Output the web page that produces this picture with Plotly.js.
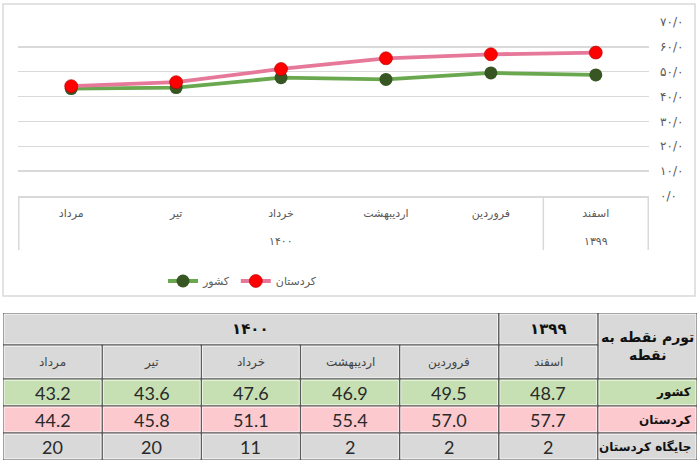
<!DOCTYPE html>
<html>
<head>
<meta charset="utf-8">
<script src="https://cdn.plot.ly/plotly-3.0.1.min.js"></script>
<style>html,body{margin:0;padding:0;background:#fff;}#chart{width:700px;height:466px;}</style>
</head>
<body>
<div id="chart"></div>
<script>
// ---- data (chronological order) ----
const months = ['اسفند', 'فروردین', 'اردیبهشت', 'خرداد', 'تیر', 'مرداد'];
const years = ['۱۳۹۹', '۱۴۰۰', '۱۴۰۰', '۱۴۰۰', '۱۴۰۰', '۱۴۰۰'];
const kashvar = [48.7, 49.5, 46.9, 47.6, 43.6, 43.2];
const kurdistan = [57.7, 57.0, 55.4, 51.1, 45.8, 44.2];
const rankKurdistan = [2, 2, 2, 11, 20, 20];
const seriesNames = ['کشور', 'کردستان'];
const rowLabels = ['کشور', 'کردستان', 'جایگاه کردستان'];
const cornerLabel = 'تورم نقطه به<br>نقطه';
const yTickVals = [0, 10, 20, 30, 40, 50, 60, 70];
const yTickText = ['۰/۰', '۱۰/۰', '۲۰/۰', '۳۰/۰', '۴۰/۰', '۵۰/۰', '۶۰/۰', '۷۰/۰'];

// ---- layout constants ----
const W = 700, H = 466;
const FA = 'DejaVu Sans';
const NUMF = 'Lato, Calibri, Carlito, sans-serif';
const GRID = '#d9d9d9';
const TXT = '#595959';
const gray = '#d9d9d9', green = '#c6e0b4', pink = '#fcc9cf';
const border = '#595959';
const py = v => 1 - v / H; // pixel row -> paper y

const traces = [
  {
    type: 'scatter', mode: 'lines+markers', name: seriesNames[0],
    x: months, y: kashvar,
    line: {color: '#6aa84f', width: 3.8},
    marker: {color: '#375623', size: 13, line: {width: 0}},
    xaxis: 'x', yaxis: 'y'
  },
  {
    type: 'scatter', mode: 'lines+markers', name: seriesNames[1],
    x: months, y: kurdistan,
    line: {color: '#e6789a', width: 3.8},
    marker: {color: '#ff0000', size: 13, line: {width: 0.6, color: '#b00000'}},
    xaxis: 'x', yaxis: 'y'
  }
];

const shapes = [];
const annotations = [];

// outer chart border
shapes.push({type: 'rect', xref: 'paper', yref: 'paper',
  x0: 3 / W, x1: 695 / W, y0: py(296), y1: py(4),
  line: {color: GRID, width: 1.5}, fillcolor: 'rgba(0,0,0,0)', layer: 'below'});

// year groups on the category axis: dividers + labels
const n = months.length;
function groups() {
  const g = [];
  let s = 0;
  for (let i = 1; i <= n; i++) {
    if (i === n || years[i] !== years[s]) { g.push({label: years[s], a: s, b: i - 1}); s = i; }
  }
  return g;
}
const grp = groups();
const divs = new Set();
grp.forEach(g => { divs.add(g.a - 0.5); divs.add(g.b + 0.5); });
divs.forEach(v => shapes.push({type: 'line', xref: 'x', yref: 'paper', x0: v, x1: v,
  y0: py(196), y1: py(250), line: {color: GRID, width: 1.5}}));
grp.forEach(g => annotations.push({xref: 'x', yref: 'paper', x: (g.a + g.b) / 2, y: py(241),
  text: g.label, showarrow: false, yanchor: 'middle', font: {family: FA, size: 11, color: TXT}}));

// ---- table via second axes ----
const rowEdges = [0, 32, 66, 93, 120, 147]; // px offsets from table top

function cell(c0, c1, r0, r1, fill, text, font, align) {
  const y0 = rowEdges[r0], y1 = rowEdges[r1];
  shapes.push({type: 'rect', xref: 'x2', yref: 'y2', x0: c0, x1: c1, y0: y0, y1: y1,
    fillcolor: fill, line: {color: border, width: 1.2}, layer: 'below'});
  shapes.push({type: 'rect', xref: 'x2', yref: 'y2', x0: c0 + 0.012, x1: c1 - 0.012, y0: y0 + 1.3, y1: y1 - 1.3,
    fillcolor: 'rgba(0,0,0,0)', line: {color: 'rgba(255,255,255,0.8)', width: 0.8}, layer: 'below'});
  if (text !== undefined) {
    const right = align === 'right';
    annotations.push({xref: 'x2', yref: 'y2', x: right ? c1 - 0.04 : (c0 + c1) / 2, y: (y0 + y1) / 2,
      text: String(text), showarrow: false, font: font, xanchor: right ? 'right' : 'center',
      yanchor: 'middle', align: right ? 'right' : 'center'});
  }
}

const col = i => n - 1 - i; // chronological index -> column (right to left)
const hdrCol = n;
const fYear = {family: FA, size: 15, color: '#111', weight: 'bold'};
const fMonth = {family: FA, size: 12, color: '#444'};
const fNum = {family: NUMF, size: 18, color: '#2a2a2a'};
const fRow = {family: FA, size: 12, color: '#111', weight: 'bold'};

cell(hdrCol, hdrCol + 1, 0, 2, gray, cornerLabel, {family: FA, size: 14, color: '#111', weight: 'bold'});
grp.forEach(g => cell(col(g.b), col(g.a) + 1, 0, 1, gray, g.label, fYear));
for (let i = 0; i < n; i++) {
  cell(col(i), col(i) + 1, 1, 2, gray, months[i], fMonth);
  cell(col(i), col(i) + 1, 2, 3, green, kashvar[i].toFixed(1), fNum);
  cell(col(i), col(i) + 1, 3, 4, pink, kurdistan[i].toFixed(1), fNum);
  cell(col(i), col(i) + 1, 4, 5, gray, rankKurdistan[i], fNum);
}
cell(hdrCol, hdrCol + 1, 2, 3, green, rowLabels[0], fRow, 'right');
cell(hdrCol, hdrCol + 1, 3, 4, pink, rowLabels[1], fRow, 'right');
cell(hdrCol, hdrCol + 1, 4, 5, gray, rowLabels[2], fRow, 'right');

const layout = {
  width: W, height: H,
  margin: {l: 0, r: 0, t: 0, b: 0},
  paper_bgcolor: '#fff', plot_bgcolor: 'rgba(0,0,0,0)',
  showlegend: true,
  legend: {orientation: 'h', x: 163 / W, xanchor: 'left', y: py(281), yanchor: 'middle',
    font: {family: FA, size: 11, color: TXT}, itemwidth: 30, bgcolor: 'rgba(0,0,0,0)'},
  xaxis: {
    domain: [18 / W, 649 / W], anchor: 'y', type: 'category', autorange: 'reversed',
    showgrid: false, showline: true, linecolor: GRID, linewidth: 1.5, tickangle: 0,
    ticks: '', ticklabelstandoff: 6, tickfont: {family: FA, size: 11, color: TXT}, fixedrange: true
  },
  yaxis: {
    domain: [py(196), py(22)], anchor: 'x', range: [0, 70], side: 'right',
    tickvals: yTickVals, ticktext: yTickText, showgrid: true, gridcolor: GRID, gridwidth: 1.5,
    zeroline: false, showline: false, ticks: '', ticklabelstandoff: 10,
    tickfont: {family: FA, size: 12, color: TXT}, fixedrange: true
  },
  xaxis2: {domain: [3 / W, 697 / W], range: [0, n + 1], anchor: 'y2', visible: false, fixedrange: true},
  yaxis2: {domain: [py(460), py(313)], range: [rowEdges[rowEdges.length - 1], 0], anchor: 'x2', visible: false, fixedrange: true},
  shapes: shapes,
  annotations: annotations
};

Plotly.newPlot('chart', traces, layout, {displayModeBar: false, staticPlot: true});
</script>
</body>
</html>
